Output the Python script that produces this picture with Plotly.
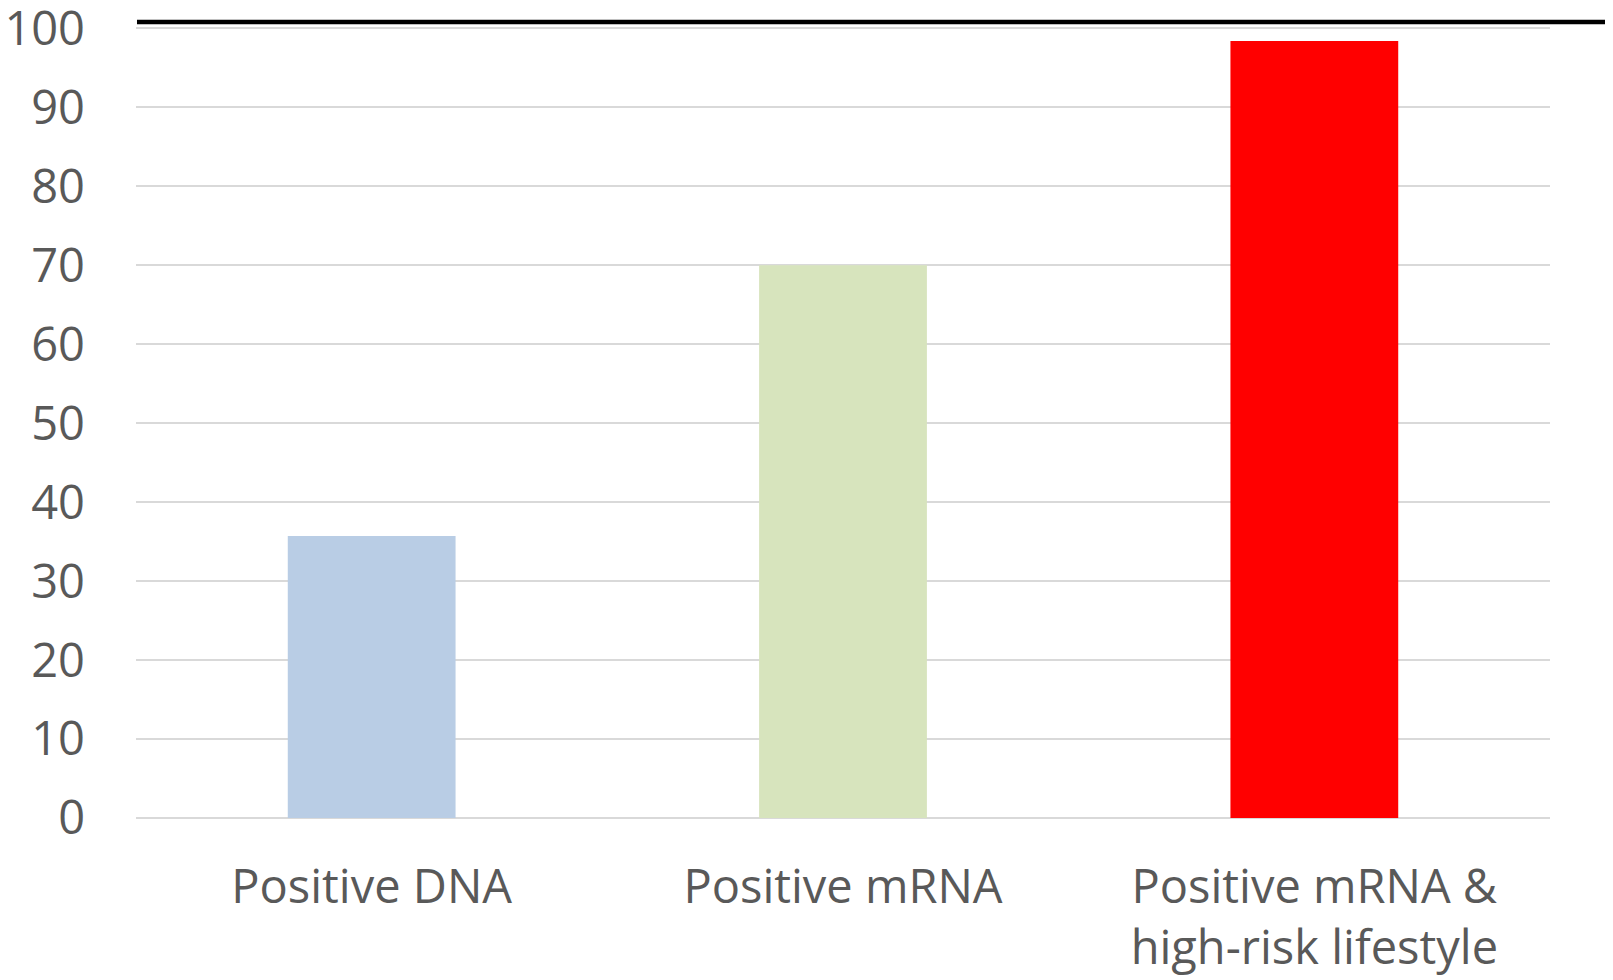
import plotly.graph_objects as go

categories = ["Positive DNA", "Positive mRNA", "Positive mRNA &<br>high-risk lifestyle"]
values = [35.7, 70.0, 98.4]
colors = ["#b9cde5", "#d7e4bd", "#ff0000"]
y_ticks = [0, 10, 20, 30, 40, 50, 60, 70, 80, 90, 100]

fig = go.Figure()
fig.add_trace(go.Bar(x=categories, y=values, marker=dict(color=colors, line=dict(width=0)),
                     width=0.356, showlegend=False))

font_family = "Open Sans, Noto Sans, sans-serif"
fig.update_layout(
    width=1613, height=980,
    margin=dict(l=128, r=71, t=14, b=170, autoexpand=False),
    plot_bgcolor="white", paper_bgcolor="white",
    font=dict(family=font_family, size=47, color="#595959"),
    xaxis=dict(showgrid=False, showline=False, zeroline=False, ticks="", automargin=False,
               tickfont=dict(size=47, color="#595959"), ticklabelstandoff=37),
    yaxis=dict(range=[0, 100.8], tickvals=y_ticks, showgrid=True, gridcolor="#d9d9d9",
               gridwidth=1.5, zeroline=True, zerolinecolor="#d9d9d9", zerolinewidth=1.5,
               showline=False, ticks="", tickfont=dict(size=47, color="#595959"),
               ticklabelstandoff=50, ticklabeloverflow="allow", automargin=False),
    shapes=[dict(type="line", xref="paper", yref="paper", x0=0.0007, x1=1.05,
                 y0=1.0, y1=1.0, line=dict(color="black", width=4.5))],
)

fig.write_html("out.html")
